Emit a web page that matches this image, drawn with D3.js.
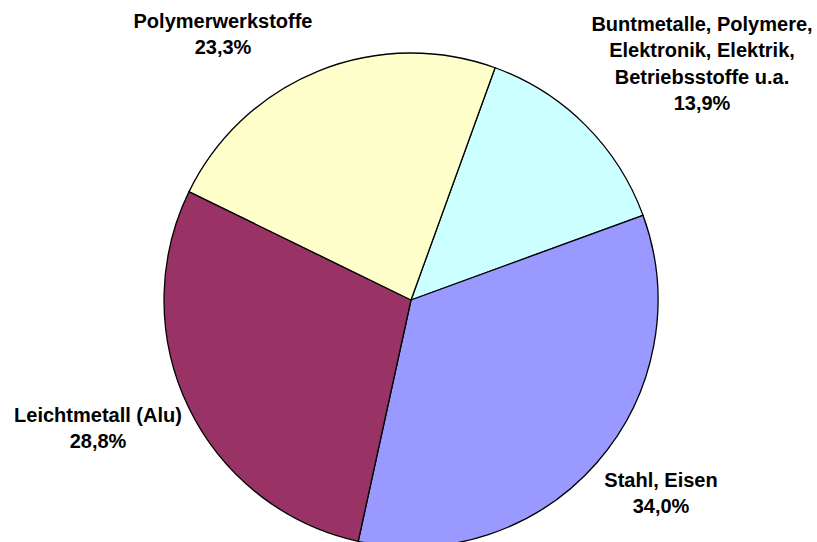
<!DOCTYPE html>
<html>
<head>
<meta charset="utf-8">
<script src="https://cdn.jsdelivr.net/npm/d3@7"></script>
<style>
html,body{margin:0;padding:0;background:#fff;}
svg{display:block;}
text{font-family:"Liberation Sans",Arial,sans-serif;font-weight:bold;fill:#000;}
</style>
</head>
<body>
<svg id="chart" width="817" height="542"></svg>
<script>
const categories = ["Buntmetalle, Polymere, Elektronik, Elektrik, Betriebsstoffe u.a.", "Stahl, Eisen", "Leichtmetall (Alu)", "Polymerwerkstoffe"];
const labelLines = [
  ["Buntmetalle, Polymere,", "Elektronik, Elektrik,", "Betriebsstoffe u.a."],
  ["Stahl, Eisen"],
  ["Leichtmetall (Alu)"],
  ["Polymerwerkstoffe"]
];
const values = [13.9, 34.0, 28.8, 23.3];
const colors = ["#CCFFFF", "#9999FF", "#993366", "#FFFFCC"];

const W = 817, H = 542;
const cx = 411, cy = 300, R = 247;
const startAngle = 19.9 * Math.PI / 180;
// label block anchors (center x, first baseline y)
const labelAnchor = [[702, 31], [661, 487], [98, 422], [223, 28]];
const lineH = 26.3;

const svg = d3.select("#chart");
const g = svg.append("g").attr("transform", `translate(${cx},${cy})`);

const pie = d3.pie().sort(null).value(d => d)
  .startAngle(startAngle).endAngle(startAngle + 2 * Math.PI);
const arc = d3.arc().innerRadius(0).outerRadius(R);
const arcs = pie(values);

g.selectAll("path").data(arcs).enter().append("path")
  .attr("d", arc)
  .attr("fill", (d, i) => colors[i])
  .attr("stroke", "#000")
  .attr("stroke-width", 1.3)
  .attr("stroke-linejoin", "round");

const fmt = v => d3.format(".1f")(v).replace(".", ",") + "%";

arcs.forEach((a, i) => {
  const lines = labelLines[i].concat([fmt(values[i])]);
  const t = svg.append("text")
    .attr("text-anchor", "middle")
    .attr("font-size", 20);
  lines.forEach((ln, j) => {
    t.append("tspan")
      .attr("x", labelAnchor[i][0])
      .attr("y", labelAnchor[i][1] + j * lineH)
      .text(ln);
  });
});
</script>
</body>
</html>
